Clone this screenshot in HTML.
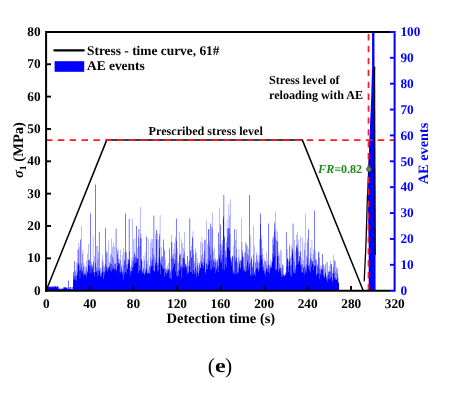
<!DOCTYPE html>
<html><head><meta charset="utf-8"><title>Stress - time curve and AE events (e)</title>
<style>html,body{margin:0;padding:0;background:#fff}svg{display:block}</style></head>
<body>
<svg width="451" height="396" viewBox="0 0 451 396" font-family="'Liberation Serif', 'Times New Roman', serif" font-weight="bold" text-rendering="geometricPrecision">
<rect width="451" height="396" fill="#fff"/>
<path d="M46.10 290.70v-4.40h0.272v4.40zM46.37 290.70v-4.40h0.272v4.40zM46.64 290.70v-4.40h0.272v4.40zM46.92 290.70v-4.40h0.272v4.40zM47.19 290.70v-3.36h0.272v3.36zM47.46 290.70v-4.40h0.272v4.40zM47.73 290.70v-4.14h0.272v4.14zM48.01 290.70v-4.40h0.272v4.40zM48.28 290.70v-3.36h0.272v3.36zM48.55 290.70v-3.88h0.272v3.88zM48.82 290.70v-3.36h0.272v3.36zM49.09 290.70v-3.88h0.272v3.88zM49.37 290.70v-4.40h0.272v4.40zM49.64 290.70v-3.88h0.272v3.88zM49.91 290.70v-3.36h0.272v3.36zM50.18 290.70v-4.14h0.272v4.14zM50.46 290.70v-4.66h0.272v4.66zM50.73 290.70v-3.36h0.272v3.36zM51.00 290.70v-3.36h0.272v3.36zM51.27 290.70v-3.36h0.272v3.36zM51.55 290.70v-4.66h0.272v4.66zM51.82 290.70v-3.88h0.272v3.88zM52.09 290.70v-4.66h0.272v4.66zM52.36 290.70v-3.36h0.272v3.36zM52.63 290.70v-4.14h0.272v4.14zM52.91 290.70v-4.66h0.272v4.66zM53.18 290.70v-3.36h0.272v3.36zM53.45 290.70v-3.36h0.272v3.36zM53.72 290.70v-3.88h0.272v3.88zM54.00 290.70v-4.66h0.272v4.66zM54.27 290.70v-4.40h0.272v4.40zM54.54 290.70v-3.88h0.272v3.88zM54.81 290.70v-4.14h0.272v4.14zM55.08 290.70v-4.14h0.272v4.14zM55.36 290.70v-4.14h0.272v4.14zM55.63 290.70v-4.66h0.272v4.66zM55.90 290.70v-4.14h0.272v4.14zM56.17 290.70v-4.40h0.272v4.40zM56.45 290.70v-3.36h0.272v3.36zM56.72 290.70v-3.36h0.272v3.36zM56.99 290.70v-4.40h0.272v4.40zM57.26 290.70v-4.40h0.272v4.40zM57.54 290.70v-4.40h0.272v4.40zM57.81 290.70v-4.40h0.272v4.40zM58.08 290.70v-4.14h0.272v4.14zM58.35 290.70v-3.36h0.272v3.36zM58.62 290.70v-1.81h0.272v1.81zM58.90 290.70v-1.29h0.272v1.29zM59.17 290.70v-2.33h0.272v2.33zM59.44 290.70v-2.33h0.272v2.33zM59.71 290.70v-1.55h0.272v1.55zM59.99 290.70v-1.81h0.272v1.81zM60.26 290.70v-1.29h0.272v1.29zM60.53 290.70v-1.81h0.272v1.81zM60.80 290.70v-2.33h0.272v2.33zM61.07 290.70v-1.81h0.272v1.81zM61.35 290.70v-1.29h0.272v1.29zM61.62 290.70v-2.33h0.272v2.33zM61.89 290.70v-1.29h0.272v1.29zM62.16 290.70v-2.33h0.272v2.33zM62.44 290.70v-2.33h0.272v2.33zM62.71 290.70v-1.81h0.272v1.81zM62.98 290.70v-2.33h0.272v2.33zM63.25 290.70v-1.81h0.272v1.81zM63.53 290.70v-3.62h0.272v3.62zM63.80 290.70v-3.36h0.272v3.36zM64.07 290.70v-3.36h0.272v3.36zM64.34 290.70v-3.36h0.272v3.36zM64.61 290.70v-3.11h0.272v3.11zM64.89 290.70v-3.36h0.272v3.36zM65.16 290.70v-3.36h0.272v3.36zM65.43 290.70v-3.11h0.272v3.11zM65.70 290.70v-3.62h0.272v3.62zM65.98 290.70v-2.59h0.272v2.59zM66.25 290.70v-2.59h0.272v2.59zM66.52 290.70v-3.62h0.272v3.62zM66.79 290.70v-3.11h0.272v3.11zM67.06 290.70v-3.62h0.272v3.62zM67.34 290.70v-2.07h0.272v2.07zM67.61 290.70v-2.07h0.272v2.07zM67.88 290.70v-2.07h0.272v2.07zM68.15 290.70v-2.07h0.272v2.07zM68.43 290.70v-10.09h0.272v10.09zM68.70 290.70v-10.09h0.272v10.09zM68.97 290.70v-1.55h0.272v1.55zM69.24 290.70v-3.62h0.272v3.62zM69.51 290.70v-1.81h0.272v1.81zM69.79 290.70v-3.62h0.272v3.62zM70.06 290.70v-3.62h0.272v3.62zM70.33 290.70v-3.88h0.272v3.88zM70.60 290.70v-1.55h0.272v1.55zM70.88 290.70v-3.88h0.272v3.88zM71.15 290.70v-1.55h0.272v1.55zM71.42 290.70v-1.81h0.272v1.81zM71.69 290.70v-1.55h0.272v1.55zM71.97 290.70v-3.62h0.272v3.62zM72.24 290.70v-1.55h0.272v1.55zM72.51 290.70v-1.81h0.272v1.81zM72.78 290.70v-3.88h0.272v3.88zM73.05 290.70v-10.50h0.272v10.50zM73.33 290.70v-19.04h0.272v19.04zM73.60 290.70v-18.67h0.272v18.67zM73.87 290.70v-15.21h0.272v15.21zM74.14 290.70v-11.85h0.272v11.85zM74.42 290.70v-29.70h0.272v29.70zM74.69 290.70v-29.70h0.272v29.70zM74.96 290.70v-10.80h0.272v10.80zM75.23 290.70v-14.68h0.272v14.68zM75.50 290.70v-19.33h0.272v19.33zM75.78 290.70v-20.81h0.272v20.81zM76.05 290.70v-14.36h0.272v14.36zM76.32 290.70v-28.32h0.272v28.32zM76.59 290.70v-10.05h0.272v10.05zM76.87 290.70v-15.64h0.272v15.64zM77.14 290.70v-27.43h0.272v27.43zM77.41 290.70v-41.15h0.272v41.15zM77.68 290.70v-18.25h0.272v18.25zM77.96 290.70v-25.02h0.272v25.02zM78.23 290.70v-27.81h0.272v27.81zM78.50 290.70v-40.89h0.272v40.89zM78.77 290.70v-47.86h0.272v47.86zM79.04 290.70v-26.23h0.272v26.23zM79.32 290.70v-20.23h0.272v20.23zM79.59 290.70v-43.99h0.272v43.99zM79.86 290.70v-12.47h0.272v12.47zM80.13 290.70v-51.20h0.272v51.20zM80.41 290.70v-51.20h0.272v51.20zM80.68 290.70v-20.84h0.272v20.84zM80.95 290.70v-23.53h0.272v23.53zM81.22 290.70v-65.14h0.272v65.14zM81.49 290.70v-27.34h0.272v27.34zM81.77 290.70v-19.28h0.272v19.28zM82.04 290.70v-17.76h0.272v17.76zM82.31 290.70v-37.31h0.272v37.31zM82.58 290.70v-20.82h0.272v20.82zM82.86 290.70v-40.92h0.272v40.92zM83.13 290.70v-15.18h0.272v15.18zM83.40 290.70v-23.57h0.272v23.57zM83.67 290.70v-28.01h0.272v28.01zM83.94 290.70v-19.16h0.272v19.16zM84.22 290.70v-25.47h0.272v25.47zM84.49 290.70v-15.86h0.272v15.86zM84.76 290.70v-16.69h0.272v16.69zM85.03 290.70v-16.22h0.272v16.22zM85.31 290.70v-19.98h0.272v19.98zM85.58 290.70v-24.32h0.272v24.32zM85.85 290.70v-16.45h0.272v16.45zM86.12 290.70v-14.04h0.272v14.04zM86.40 290.70v-23.17h0.272v23.17zM86.67 290.70v-30.08h0.272v30.08zM86.94 290.70v-18.81h0.272v18.81zM87.21 290.70v-37.11h0.272v37.11zM87.48 290.70v-20.84h0.272v20.84zM87.76 290.70v-17.96h0.272v17.96zM88.03 290.70v-25.71h0.272v25.71zM88.30 290.70v-46.99h0.272v46.99zM88.57 290.70v-31.05h0.272v31.05zM88.85 290.70v-29.90h0.272v29.90zM89.12 290.70v-30.39h0.272v30.39zM89.39 290.70v-31.62h0.272v31.62zM89.66 290.70v-23.23h0.272v23.23zM89.93 290.70v-16.89h0.272v16.89zM90.21 290.70v-77.30h0.272v77.30zM90.48 290.70v-77.30h0.272v77.30zM90.75 290.70v-25.08h0.272v25.08zM91.02 290.70v-18.16h0.272v18.16zM91.30 290.70v-26.43h0.272v26.43zM91.57 290.70v-29.08h0.272v29.08zM91.84 290.70v-23.44h0.272v23.44zM92.11 290.70v-21.60h0.272v21.60zM92.39 290.70v-25.14h0.272v25.14zM92.66 290.70v-25.08h0.272v25.08zM92.93 290.70v-54.87h0.272v54.87zM93.20 290.70v-18.12h0.272v18.12zM93.47 290.70v-27.46h0.272v27.46zM93.75 290.70v-29.79h0.272v29.79zM94.02 290.70v-14.52h0.272v14.52zM94.29 290.70v-18.17h0.272v18.17zM94.56 290.70v-34.54h0.272v34.54zM94.84 290.70v-18.72h0.272v18.72zM95.11 290.70v-27.90h0.272v27.90zM95.38 290.70v-106.30h0.272v106.30zM95.65 290.70v-106.30h0.272v106.30zM95.92 290.70v-18.34h0.272v18.34zM96.20 290.70v-23.46h0.272v23.46zM96.47 290.70v-44.82h0.272v44.82zM96.74 290.70v-19.43h0.272v19.43zM97.01 290.70v-44.66h0.272v44.66zM97.29 290.70v-13.98h0.272v13.98zM97.56 290.70v-20.14h0.272v20.14zM97.83 290.70v-32.02h0.272v32.02zM98.10 290.70v-39.10h0.272v39.10zM98.38 290.70v-16.38h0.272v16.38zM98.65 290.70v-21.85h0.272v21.85zM98.92 290.70v-59.00h0.272v59.00zM99.19 290.70v-59.00h0.272v59.00zM99.46 290.70v-20.57h0.272v20.57zM99.74 290.70v-19.86h0.272v19.86zM100.01 290.70v-22.33h0.272v22.33zM100.28 290.70v-15.76h0.272v15.76zM100.55 290.70v-13.75h0.272v13.75zM100.83 290.70v-22.77h0.272v22.77zM101.10 290.70v-17.75h0.272v17.75zM101.37 290.70v-17.92h0.272v17.92zM101.64 290.70v-13.92h0.272v13.92zM101.91 290.70v-31.06h0.272v31.06zM102.19 290.70v-36.06h0.272v36.06zM102.46 290.70v-25.11h0.272v25.11zM102.73 290.70v-19.32h0.272v19.32zM103.00 290.70v-28.86h0.272v28.86zM103.28 290.70v-19.00h0.272v19.00zM103.55 290.70v-11.60h0.272v11.60zM103.82 290.70v-23.31h0.272v23.31zM104.09 290.70v-24.09h0.272v24.09zM104.36 290.70v-18.74h0.272v18.74zM104.64 290.70v-16.17h0.272v16.17zM104.91 290.70v-26.61h0.272v26.61zM105.18 290.70v-19.85h0.272v19.85zM105.45 290.70v-62.70h0.272v62.70zM105.73 290.70v-62.70h0.272v62.70zM106.00 290.70v-40.51h0.272v40.51zM106.27 290.70v-37.52h0.272v37.52zM106.54 290.70v-24.22h0.272v24.22zM106.82 290.70v-21.75h0.272v21.75zM107.09 290.70v-23.88h0.272v23.88zM107.36 290.70v-18.80h0.272v18.80zM107.63 290.70v-38.63h0.272v38.63zM107.90 290.70v-20.91h0.272v20.91zM108.18 290.70v-23.44h0.272v23.44zM108.45 290.70v-50.06h0.272v50.06zM108.72 290.70v-22.54h0.272v22.54zM108.99 290.70v-28.80h0.272v28.80zM109.27 290.70v-23.75h0.272v23.75zM109.54 290.70v-24.61h0.272v24.61zM109.81 290.70v-28.20h0.272v28.20zM110.08 290.70v-27.19h0.272v27.19zM110.35 290.70v-19.94h0.272v19.94zM110.63 290.70v-35.70h0.272v35.70zM110.90 290.70v-36.86h0.272v36.86zM111.17 290.70v-52.08h0.272v52.08zM111.44 290.70v-19.30h0.272v19.30zM111.72 290.70v-26.72h0.272v26.72zM111.99 290.70v-33.99h0.272v33.99zM112.26 290.70v-43.60h0.272v43.60zM112.53 290.70v-21.16h0.272v21.16zM112.81 290.70v-25.02h0.272v25.02zM113.08 290.70v-22.44h0.272v22.44zM113.35 290.70v-48.03h0.272v48.03zM113.62 290.70v-31.80h0.272v31.80zM113.89 290.70v-22.43h0.272v22.43zM114.17 290.70v-27.02h0.272v27.02zM114.44 290.70v-44.00h0.272v44.00zM114.71 290.70v-20.79h0.272v20.79zM114.98 290.70v-26.44h0.272v26.44zM115.26 290.70v-21.91h0.272v21.91zM115.53 290.70v-27.84h0.272v27.84zM115.80 290.70v-61.90h0.272v61.90zM116.07 290.70v-61.90h0.272v61.90zM116.34 290.70v-19.68h0.272v19.68zM116.62 290.70v-20.94h0.272v20.94zM116.89 290.70v-43.04h0.272v43.04zM117.16 290.70v-36.82h0.272v36.82zM117.43 290.70v-24.10h0.272v24.10zM117.71 290.70v-39.76h0.272v39.76zM117.98 290.70v-40.68h0.272v40.68zM118.25 290.70v-27.63h0.272v27.63zM118.52 290.70v-32.34h0.272v32.34zM118.79 290.70v-27.43h0.272v27.43zM119.07 290.70v-27.50h0.272v27.50zM119.34 290.70v-26.19h0.272v26.19zM119.61 290.70v-31.75h0.272v31.75zM119.88 290.70v-17.87h0.272v17.87zM120.16 290.70v-40.95h0.272v40.95zM120.43 290.70v-18.18h0.272v18.18zM120.70 290.70v-30.66h0.272v30.66zM120.97 290.70v-21.93h0.272v21.93zM121.25 290.70v-25.45h0.272v25.45zM121.52 290.70v-24.34h0.272v24.34zM121.79 290.70v-18.65h0.272v18.65zM122.06 290.70v-35.80h0.272v35.80zM122.33 290.70v-19.93h0.272v19.93zM122.61 290.70v-15.88h0.272v15.88zM122.88 290.70v-18.87h0.272v18.87zM123.15 290.70v-11.24h0.272v11.24zM123.42 290.70v-25.37h0.272v25.37zM123.70 290.70v-42.87h0.272v42.87zM123.97 290.70v-38.34h0.272v38.34zM124.24 290.70v-16.70h0.272v16.70zM124.51 290.70v-29.87h0.272v29.87zM124.78 290.70v-30.65h0.272v30.65zM125.06 290.70v-18.68h0.272v18.68zM125.33 290.70v-77.30h0.272v77.30zM125.60 290.70v-77.30h0.272v77.30zM125.87 290.70v-39.18h0.272v39.18zM126.15 290.70v-26.00h0.272v26.00zM126.42 290.70v-38.07h0.272v38.07zM126.69 290.70v-17.74h0.272v17.74zM126.96 290.70v-22.22h0.272v22.22zM127.24 290.70v-21.58h0.272v21.58zM127.51 290.70v-26.46h0.272v26.46zM127.78 290.70v-31.84h0.272v31.84zM128.05 290.70v-31.57h0.272v31.57zM128.32 290.70v-31.42h0.272v31.42zM128.60 290.70v-27.18h0.272v27.18zM128.87 290.70v-71.70h0.272v71.70zM129.14 290.70v-71.70h0.272v71.70zM129.41 290.70v-29.68h0.272v29.68zM129.69 290.70v-39.55h0.272v39.55zM129.96 290.70v-15.22h0.272v15.22zM130.23 290.70v-21.23h0.272v21.23zM130.50 290.70v-18.99h0.272v18.99zM130.77 290.70v-23.98h0.272v23.98zM131.05 290.70v-32.41h0.272v32.41zM131.32 290.70v-19.77h0.272v19.77zM131.59 290.70v-25.66h0.272v25.66zM131.86 290.70v-19.74h0.272v19.74zM132.14 290.70v-29.17h0.272v29.17zM132.41 290.70v-71.65h0.272v71.65zM132.68 290.70v-23.27h0.272v23.27zM132.95 290.70v-23.84h0.272v23.84zM133.22 290.70v-30.33h0.272v30.33zM133.50 290.70v-51.41h0.272v51.41zM133.77 290.70v-33.72h0.272v33.72zM134.04 290.70v-37.10h0.272v37.10zM134.31 290.70v-38.60h0.272v38.60zM134.59 290.70v-26.83h0.272v26.83zM134.86 290.70v-52.79h0.272v52.79zM135.13 290.70v-27.74h0.272v27.74zM135.40 290.70v-35.44h0.272v35.44zM135.68 290.70v-33.18h0.272v33.18zM135.95 290.70v-33.54h0.272v33.54zM136.22 290.70v-64.80h0.272v64.80zM136.49 290.70v-64.80h0.272v64.80zM136.76 290.70v-28.19h0.272v28.19zM137.04 290.70v-32.59h0.272v32.59zM137.31 290.70v-43.19h0.272v43.19zM137.58 290.70v-31.36h0.272v31.36zM137.85 290.70v-31.76h0.272v31.76zM138.13 290.70v-53.50h0.272v53.50zM138.40 290.70v-17.68h0.272v17.68zM138.67 290.70v-61.70h0.272v61.70zM138.94 290.70v-61.70h0.272v61.70zM139.21 290.70v-19.92h0.272v19.92zM139.49 290.70v-44.66h0.272v44.66zM139.76 290.70v-25.28h0.272v25.28zM140.03 290.70v-20.59h0.272v20.59zM140.30 290.70v-83.65h0.272v83.65zM140.58 290.70v-52.62h0.272v52.62zM140.85 290.70v-57.29h0.272v57.29zM141.12 290.70v-31.48h0.272v31.48zM141.39 290.70v-30.27h0.272v30.27zM141.67 290.70v-52.55h0.272v52.55zM141.94 290.70v-17.15h0.272v17.15zM142.21 290.70v-20.07h0.272v20.07zM142.48 290.70v-19.24h0.272v19.24zM142.75 290.70v-29.66h0.272v29.66zM143.03 290.70v-22.05h0.272v22.05zM143.30 290.70v-17.67h0.272v17.67zM143.57 290.70v-23.29h0.272v23.29zM143.84 290.70v-34.83h0.272v34.83zM144.12 290.70v-15.64h0.272v15.64zM144.39 290.70v-30.45h0.272v30.45zM144.66 290.70v-17.06h0.272v17.06zM144.93 290.70v-38.69h0.272v38.69zM145.20 290.70v-18.05h0.272v18.05zM145.48 290.70v-22.10h0.272v22.10zM145.75 290.70v-19.36h0.272v19.36zM146.02 290.70v-54.10h0.272v54.10zM146.29 290.70v-54.10h0.272v54.10zM146.57 290.70v-21.59h0.272v21.59zM146.84 290.70v-27.15h0.272v27.15zM147.11 290.70v-30.42h0.272v30.42zM147.38 290.70v-17.22h0.272v17.22zM147.66 290.70v-17.78h0.272v17.78zM147.93 290.70v-17.68h0.272v17.68zM148.20 290.70v-20.55h0.272v20.55zM148.47 290.70v-17.67h0.272v17.67zM148.74 290.70v-52.04h0.272v52.04zM149.02 290.70v-25.04h0.272v25.04zM149.29 290.70v-24.82h0.272v24.82zM149.56 290.70v-17.54h0.272v17.54zM149.83 290.70v-16.60h0.272v16.60zM150.11 290.70v-22.81h0.272v22.81zM150.38 290.70v-48.03h0.272v48.03zM150.65 290.70v-33.16h0.272v33.16zM150.92 290.70v-25.64h0.272v25.64zM151.19 290.70v-29.91h0.272v29.91zM151.47 290.70v-24.45h0.272v24.45zM151.74 290.70v-51.66h0.272v51.66zM152.01 290.70v-31.14h0.272v31.14zM152.28 290.70v-51.60h0.272v51.60zM152.56 290.70v-42.63h0.272v42.63zM152.83 290.70v-24.93h0.272v24.93zM153.10 290.70v-20.16h0.272v20.16zM153.37 290.70v-36.54h0.272v36.54zM153.64 290.70v-75.30h0.272v75.30zM153.92 290.70v-75.30h0.272v75.30zM154.19 290.70v-19.10h0.272v19.10zM154.46 290.70v-19.78h0.272v19.78zM154.73 290.70v-33.60h0.272v33.60zM155.01 290.70v-31.01h0.272v31.01zM155.28 290.70v-28.00h0.272v28.00zM155.55 290.70v-56.94h0.272v56.94zM155.82 290.70v-25.08h0.272v25.08zM156.10 290.70v-51.31h0.272v51.31zM156.37 290.70v-60.70h0.272v60.70zM156.64 290.70v-60.70h0.272v60.70zM156.91 290.70v-29.03h0.272v29.03zM157.18 290.70v-57.33h0.272v57.33zM157.46 290.70v-25.46h0.272v25.46zM157.73 290.70v-19.25h0.272v19.25zM158.00 290.70v-27.43h0.272v27.43zM158.27 290.70v-51.27h0.272v51.27zM158.55 290.70v-20.73h0.272v20.73zM158.82 290.70v-33.28h0.272v33.28zM159.09 290.70v-56.87h0.272v56.87zM159.36 290.70v-55.03h0.272v55.03zM159.63 290.70v-42.39h0.272v42.39zM159.91 290.70v-75.62h0.272v75.62zM160.18 290.70v-31.08h0.272v31.08zM160.45 290.70v-28.07h0.272v28.07zM160.72 290.70v-16.53h0.272v16.53zM161.00 290.70v-34.32h0.272v34.32zM161.27 290.70v-43.99h0.272v43.99zM161.54 290.70v-25.33h0.272v25.33zM161.81 290.70v-26.14h0.272v26.14zM162.09 290.70v-34.67h0.272v34.67zM162.36 290.70v-33.43h0.272v33.43zM162.63 290.70v-23.39h0.272v23.39zM162.90 290.70v-21.18h0.272v21.18zM163.17 290.70v-22.39h0.272v22.39zM163.45 290.70v-51.20h0.272v51.20zM163.72 290.70v-51.20h0.272v51.20zM163.99 290.70v-39.93h0.272v39.93zM164.26 290.70v-41.84h0.272v41.84zM164.54 290.70v-13.63h0.272v13.63zM164.81 290.70v-22.32h0.272v22.32zM165.08 290.70v-21.32h0.272v21.32zM165.35 290.70v-18.11h0.272v18.11zM165.62 290.70v-31.62h0.272v31.62zM165.90 290.70v-17.67h0.272v17.67zM166.17 290.70v-22.23h0.272v22.23zM166.44 290.70v-21.46h0.272v21.46zM166.71 290.70v-15.48h0.272v15.48zM166.99 290.70v-21.45h0.272v21.45zM167.26 290.70v-19.80h0.272v19.80zM167.53 290.70v-25.30h0.272v25.30zM167.80 290.70v-18.02h0.272v18.02zM168.08 290.70v-27.58h0.272v27.58zM168.35 290.70v-21.40h0.272v21.40zM168.62 290.70v-20.91h0.272v20.91zM168.89 290.70v-21.44h0.272v21.44zM169.16 290.70v-12.94h0.272v12.94zM169.44 290.70v-43.18h0.272v43.18zM169.71 290.70v-41.33h0.272v41.33zM169.98 290.70v-18.30h0.272v18.30zM170.25 290.70v-12.50h0.272v12.50zM170.53 290.70v-20.09h0.272v20.09zM170.80 290.70v-32.27h0.272v32.27zM171.07 290.70v-11.42h0.272v11.42zM171.34 290.70v-56.04h0.272v56.04zM171.61 290.70v-48.70h0.272v48.70zM171.89 290.70v-48.70h0.272v48.70zM172.16 290.70v-20.63h0.272v20.63zM172.43 290.70v-32.60h0.272v32.60zM172.70 290.70v-35.38h0.272v35.38zM172.98 290.70v-32.02h0.272v32.02zM173.25 290.70v-37.04h0.272v37.04zM173.52 290.70v-23.52h0.272v23.52zM173.79 290.70v-42.27h0.272v42.27zM174.06 290.70v-26.82h0.272v26.82zM174.34 290.70v-27.93h0.272v27.93zM174.61 290.70v-47.94h0.272v47.94zM174.88 290.70v-31.12h0.272v31.12zM175.15 290.70v-37.42h0.272v37.42zM175.43 290.70v-53.63h0.272v53.63zM175.70 290.70v-19.40h0.272v19.40zM175.97 290.70v-72.20h0.272v72.20zM176.24 290.70v-72.20h0.272v72.20zM176.52 290.70v-49.96h0.272v49.96zM176.79 290.70v-15.17h0.272v15.17zM177.06 290.70v-14.29h0.272v14.29zM177.33 290.70v-18.77h0.272v18.77zM177.60 290.70v-42.17h0.272v42.17zM177.88 290.70v-27.47h0.272v27.47zM178.15 290.70v-14.76h0.272v14.76zM178.42 290.70v-29.14h0.272v29.14zM178.69 290.70v-20.62h0.272v20.62zM178.97 290.70v-20.13h0.272v20.13zM179.24 290.70v-58.77h0.272v58.77zM179.51 290.70v-34.89h0.272v34.89zM179.78 290.70v-36.92h0.272v36.92zM180.05 290.70v-37.55h0.272v37.55zM180.33 290.70v-22.59h0.272v22.59zM180.60 290.70v-35.98h0.272v35.98zM180.87 290.70v-25.18h0.272v25.18zM181.14 290.70v-13.01h0.272v13.01zM181.42 290.70v-26.39h0.272v26.39zM181.69 290.70v-51.50h0.272v51.50zM181.96 290.70v-23.84h0.272v23.84zM182.23 290.70v-47.35h0.272v47.35zM182.51 290.70v-23.46h0.272v23.46zM182.78 290.70v-32.79h0.272v32.79zM183.05 290.70v-32.74h0.272v32.74zM183.32 290.70v-36.09h0.272v36.09zM183.59 290.70v-42.81h0.272v42.81zM183.87 290.70v-21.86h0.272v21.86zM184.14 290.70v-31.62h0.272v31.62zM184.41 290.70v-58.97h0.272v58.97zM184.68 290.70v-38.97h0.272v38.97zM184.96 290.70v-23.75h0.272v23.75zM185.23 290.70v-26.80h0.272v26.80zM185.50 290.70v-26.59h0.272v26.59zM185.77 290.70v-28.45h0.272v28.45zM186.04 290.70v-24.96h0.272v24.96zM186.32 290.70v-25.72h0.272v25.72zM186.59 290.70v-23.68h0.272v23.68zM186.86 290.70v-20.47h0.272v20.47zM187.13 290.70v-34.42h0.272v34.42zM187.41 290.70v-34.96h0.272v34.96zM187.68 290.70v-16.50h0.272v16.50zM187.95 290.70v-17.77h0.272v17.77zM188.22 290.70v-29.18h0.272v29.18zM188.49 290.70v-18.39h0.272v18.39zM188.77 290.70v-24.37h0.272v24.37zM189.04 290.70v-24.76h0.272v24.76zM189.31 290.70v-30.59h0.272v30.59zM189.58 290.70v-72.40h0.272v72.40zM189.86 290.70v-72.40h0.272v72.40zM190.13 290.70v-39.66h0.272v39.66zM190.40 290.70v-40.54h0.272v40.54zM190.67 290.70v-18.68h0.272v18.68zM190.95 290.70v-18.65h0.272v18.65zM191.22 290.70v-33.21h0.272v33.21zM191.49 290.70v-44.92h0.272v44.92zM191.76 290.70v-33.34h0.272v33.34zM192.03 290.70v-54.14h0.272v54.14zM192.31 290.70v-16.65h0.272v16.65zM192.58 290.70v-52.71h0.272v52.71zM192.85 290.70v-59.45h0.272v59.45zM193.12 290.70v-20.46h0.272v20.46zM193.40 290.70v-40.99h0.272v40.99zM193.67 290.70v-35.95h0.272v35.95zM193.94 290.70v-27.29h0.272v27.29zM194.21 290.70v-16.76h0.272v16.76zM194.48 290.70v-19.17h0.272v19.17zM194.76 290.70v-29.47h0.272v29.47zM195.03 290.70v-37.16h0.272v37.16zM195.30 290.70v-23.78h0.272v23.78zM195.57 290.70v-42.82h0.272v42.82zM195.85 290.70v-17.47h0.272v17.47zM196.12 290.70v-38.48h0.272v38.48zM196.39 290.70v-13.80h0.272v13.80zM196.66 290.70v-21.22h0.272v21.22zM196.94 290.70v-25.04h0.272v25.04zM197.21 290.70v-27.64h0.272v27.64zM197.48 290.70v-32.26h0.272v32.26zM197.75 290.70v-17.92h0.272v17.92zM198.02 290.70v-14.70h0.272v14.70zM198.30 290.70v-23.22h0.272v23.22zM198.57 290.70v-17.55h0.272v17.55zM198.84 290.70v-28.02h0.272v28.02zM199.11 290.70v-19.76h0.272v19.76zM199.39 290.70v-25.74h0.272v25.74zM199.66 290.70v-27.61h0.272v27.61zM199.93 290.70v-30.20h0.272v30.20zM200.20 290.70v-22.65h0.272v22.65zM200.47 290.70v-48.59h0.272v48.59zM200.75 290.70v-22.93h0.272v22.93zM201.02 290.70v-27.31h0.272v27.31zM201.29 290.70v-35.39h0.272v35.39zM201.56 290.70v-29.20h0.272v29.20zM201.84 290.70v-54.02h0.272v54.02zM202.11 290.70v-28.03h0.272v28.03zM202.38 290.70v-25.30h0.272v25.30zM202.65 290.70v-47.16h0.272v47.16zM202.93 290.70v-36.67h0.272v36.67zM203.20 290.70v-22.37h0.272v22.37zM203.47 290.70v-24.93h0.272v24.93zM203.74 290.70v-31.87h0.272v31.87zM204.01 290.70v-50.50h0.272v50.50zM204.29 290.70v-39.80h0.272v39.80zM204.56 290.70v-28.62h0.272v28.62zM204.83 290.70v-51.20h0.272v51.20zM205.10 290.70v-51.20h0.272v51.20zM205.38 290.70v-18.60h0.272v18.60zM205.65 290.70v-17.10h0.272v17.10zM205.92 290.70v-21.17h0.272v21.17zM206.19 290.70v-27.47h0.272v27.47zM206.46 290.70v-26.98h0.272v26.98zM206.74 290.70v-70.17h0.272v70.17zM207.01 290.70v-25.25h0.272v25.25zM207.28 290.70v-21.58h0.272v21.58zM207.55 290.70v-46.49h0.272v46.49zM207.83 290.70v-31.60h0.272v31.60zM208.10 290.70v-25.89h0.272v25.89zM208.37 290.70v-61.40h0.272v61.40zM208.64 290.70v-61.40h0.272v61.40zM208.91 290.70v-62.02h0.272v62.02zM209.19 290.70v-44.01h0.272v44.01zM209.46 290.70v-29.85h0.272v29.85zM209.73 290.70v-49.44h0.272v49.44zM210.00 290.70v-36.28h0.272v36.28zM210.28 290.70v-21.28h0.272v21.28zM210.55 290.70v-67.20h0.272v67.20zM210.82 290.70v-67.20h0.272v67.20zM211.09 290.70v-63.95h0.272v63.95zM211.37 290.70v-30.71h0.272v30.71zM211.64 290.70v-21.21h0.272v21.21zM211.91 290.70v-41.74h0.272v41.74zM212.18 290.70v-78.15h0.272v78.15zM212.45 290.70v-24.00h0.272v24.00zM212.73 290.70v-62.33h0.272v62.33zM213.00 290.70v-31.32h0.272v31.32zM213.27 290.70v-39.57h0.272v39.57zM213.54 290.70v-29.90h0.272v29.90zM213.82 290.70v-21.84h0.272v21.84zM214.09 290.70v-43.25h0.272v43.25zM214.36 290.70v-24.02h0.272v24.02zM214.63 290.70v-28.76h0.272v28.76zM214.90 290.70v-32.19h0.272v32.19zM215.18 290.70v-17.71h0.272v17.71zM215.45 290.70v-31.61h0.272v31.61zM215.72 290.70v-28.91h0.272v28.91zM215.99 290.70v-22.78h0.272v22.78zM216.27 290.70v-20.70h0.272v20.70zM216.54 290.70v-28.60h0.272v28.60zM216.81 290.70v-30.91h0.272v30.91zM217.08 290.70v-25.75h0.272v25.75zM217.36 290.70v-31.40h0.272v31.40zM217.63 290.70v-30.49h0.272v30.49zM217.90 290.70v-18.61h0.272v18.61zM218.17 290.70v-57.90h0.272v57.90zM218.44 290.70v-57.90h0.272v57.90zM218.72 290.70v-23.96h0.272v23.96zM218.99 290.70v-83.25h0.272v83.25zM219.26 290.70v-36.05h0.272v36.05zM219.53 290.70v-32.38h0.272v32.38zM219.81 290.70v-46.53h0.272v46.53zM220.08 290.70v-66.66h0.272v66.66zM220.35 290.70v-28.34h0.272v28.34zM220.62 290.70v-65.19h0.272v65.19zM220.89 290.70v-40.79h0.272v40.79zM221.17 290.70v-27.59h0.272v27.59zM221.44 290.70v-47.75h0.272v47.75zM221.71 290.70v-31.75h0.272v31.75zM221.98 290.70v-44.62h0.272v44.62zM222.26 290.70v-50.56h0.272v50.56zM222.53 290.70v-35.77h0.272v35.77zM222.80 290.70v-21.47h0.272v21.47zM223.07 290.70v-75.02h0.272v75.02zM223.34 290.70v-71.87h0.272v71.87zM223.62 290.70v-95.70h0.272v95.70zM223.89 290.70v-95.70h0.272v95.70zM224.16 290.70v-54.69h0.272v54.69zM224.43 290.70v-52.67h0.272v52.67zM224.71 290.70v-21.01h0.272v21.01zM224.98 290.70v-33.30h0.272v33.30zM225.25 290.70v-39.71h0.272v39.71zM225.52 290.70v-26.38h0.272v26.38zM225.80 290.70v-40.42h0.272v40.42zM226.07 290.70v-48.61h0.272v48.61zM226.34 290.70v-33.51h0.272v33.51zM226.61 290.70v-23.21h0.272v23.21zM226.88 290.70v-71.13h0.272v71.13zM227.16 290.70v-61.91h0.272v61.91zM227.43 290.70v-43.36h0.272v43.36zM227.70 290.70v-54.00h0.272v54.00zM227.97 290.70v-62.70h0.272v62.70zM228.25 290.70v-62.70h0.272v62.70zM228.52 290.70v-43.00h0.272v43.00zM228.79 290.70v-86.58h0.272v86.58zM229.06 290.70v-62.13h0.272v62.13zM229.33 290.70v-40.65h0.272v40.65zM229.61 290.70v-75.34h0.272v75.34zM229.88 290.70v-56.60h0.272v56.60zM230.15 290.70v-31.96h0.272v31.96zM230.42 290.70v-33.57h0.272v33.57zM230.70 290.70v-91.23h0.272v91.23zM230.97 290.70v-29.35h0.272v29.35zM231.24 290.70v-29.28h0.272v29.28zM231.51 290.70v-32.57h0.272v32.57zM231.79 290.70v-25.31h0.272v25.31zM232.06 290.70v-33.80h0.272v33.80zM232.33 290.70v-35.02h0.272v35.02zM232.60 290.70v-34.90h0.272v34.90zM232.87 290.70v-17.55h0.272v17.55zM233.15 290.70v-20.17h0.272v20.17zM233.42 290.70v-19.21h0.272v19.21zM233.69 290.70v-44.97h0.272v44.97zM233.96 290.70v-34.59h0.272v34.59zM234.24 290.70v-16.58h0.272v16.58zM234.51 290.70v-61.70h0.272v61.70zM234.78 290.70v-61.70h0.272v61.70zM235.05 290.70v-29.28h0.272v29.28zM235.32 290.70v-32.32h0.272v32.32zM235.60 290.70v-50.64h0.272v50.64zM235.87 290.70v-16.93h0.272v16.93zM236.14 290.70v-32.83h0.272v32.83zM236.41 290.70v-41.65h0.272v41.65zM236.69 290.70v-61.02h0.272v61.02zM236.96 290.70v-27.86h0.272v27.86zM237.23 290.70v-17.18h0.272v17.18zM237.50 290.70v-29.39h0.272v29.39zM237.78 290.70v-18.35h0.272v18.35zM238.05 290.70v-22.87h0.272v22.87zM238.32 290.70v-33.65h0.272v33.65zM238.59 290.70v-18.54h0.272v18.54zM238.86 290.70v-41.36h0.272v41.36zM239.14 290.70v-30.81h0.272v30.81zM239.41 290.70v-28.47h0.272v28.47zM239.68 290.70v-26.35h0.272v26.35zM239.95 290.70v-21.48h0.272v21.48zM240.23 290.70v-30.72h0.272v30.72zM240.50 290.70v-30.49h0.272v30.49zM240.77 290.70v-23.12h0.272v23.12zM241.04 290.70v-28.71h0.272v28.71zM241.31 290.70v-72.17h0.272v72.17zM241.59 290.70v-30.95h0.272v30.95zM241.86 290.70v-48.79h0.272v48.79zM242.13 290.70v-34.27h0.272v34.27zM242.40 290.70v-41.04h0.272v41.04zM242.68 290.70v-37.76h0.272v37.76zM242.95 290.70v-20.20h0.272v20.20zM243.22 290.70v-33.07h0.272v33.07zM243.49 290.70v-25.04h0.272v25.04zM243.76 290.70v-34.03h0.272v34.03zM244.04 290.70v-20.56h0.272v20.56zM244.31 290.70v-38.54h0.272v38.54zM244.58 290.70v-22.37h0.272v22.37zM244.85 290.70v-18.38h0.272v18.38zM245.13 290.70v-38.53h0.272v38.53zM245.40 290.70v-19.31h0.272v19.31zM245.67 290.70v-48.62h0.272v48.62zM245.94 290.70v-47.25h0.272v47.25zM246.22 290.70v-24.62h0.272v24.62zM246.49 290.70v-45.86h0.272v45.86zM246.76 290.70v-19.72h0.272v19.72zM247.03 290.70v-44.71h0.272v44.71zM247.30 290.70v-30.52h0.272v30.52zM247.58 290.70v-36.99h0.272v36.99zM247.85 290.70v-28.31h0.272v28.31zM248.12 290.70v-35.11h0.272v35.11zM248.39 290.70v-41.66h0.272v41.66zM248.67 290.70v-21.35h0.272v21.35zM248.94 290.70v-24.05h0.272v24.05zM249.21 290.70v-95.70h0.272v95.70zM249.48 290.70v-95.70h0.272v95.70zM249.75 290.70v-26.58h0.272v26.58zM250.03 290.70v-28.72h0.272v28.72zM250.30 290.70v-55.11h0.272v55.11zM250.57 290.70v-16.38h0.272v16.38zM250.84 290.70v-14.43h0.272v14.43zM251.12 290.70v-34.78h0.272v34.78zM251.39 290.70v-31.36h0.272v31.36zM251.66 290.70v-32.62h0.272v32.62zM251.93 290.70v-15.92h0.272v15.92zM252.21 290.70v-26.47h0.272v26.47zM252.48 290.70v-23.32h0.272v23.32zM252.75 290.70v-23.47h0.272v23.47zM253.02 290.70v-29.12h0.272v29.12zM253.29 290.70v-35.74h0.272v35.74zM253.57 290.70v-65.07h0.272v65.07zM253.84 290.70v-15.41h0.272v15.41zM254.11 290.70v-18.21h0.272v18.21zM254.38 290.70v-17.32h0.272v17.32zM254.66 290.70v-44.70h0.272v44.70zM254.93 290.70v-20.33h0.272v20.33zM255.20 290.70v-27.62h0.272v27.62zM255.47 290.70v-29.46h0.272v29.46zM255.74 290.70v-14.65h0.272v14.65zM256.02 290.70v-38.44h0.272v38.44zM256.29 290.70v-35.24h0.272v35.24zM256.56 290.70v-22.10h0.272v22.10zM256.83 290.70v-22.47h0.272v22.47zM257.11 290.70v-23.39h0.272v23.39zM257.38 290.70v-30.95h0.272v30.95zM257.65 290.70v-29.08h0.272v29.08zM257.92 290.70v-35.83h0.272v35.83zM258.19 290.70v-19.03h0.272v19.03zM258.47 290.70v-20.75h0.272v20.75zM258.74 290.70v-27.73h0.272v27.73zM259.01 290.70v-29.28h0.272v29.28zM259.28 290.70v-22.53h0.272v22.53zM259.56 290.70v-52.00h0.272v52.00zM259.83 290.70v-35.16h0.272v35.16zM260.10 290.70v-77.30h0.272v77.30zM260.37 290.70v-77.30h0.272v77.30zM260.65 290.70v-66.91h0.272v66.91zM260.92 290.70v-31.56h0.272v31.56zM261.19 290.70v-35.77h0.272v35.77zM261.46 290.70v-55.05h0.272v55.05zM261.73 290.70v-50.24h0.272v50.24zM262.01 290.70v-22.93h0.272v22.93zM262.28 290.70v-30.52h0.272v30.52zM262.55 290.70v-42.66h0.272v42.66zM262.82 290.70v-36.65h0.272v36.65zM263.10 290.70v-26.27h0.272v26.27zM263.37 290.70v-20.28h0.272v20.28zM263.64 290.70v-24.16h0.272v24.16zM263.91 290.70v-32.53h0.272v32.53zM264.18 290.70v-30.29h0.272v30.29zM264.46 290.70v-20.28h0.272v20.28zM264.73 290.70v-17.08h0.272v17.08zM265.00 290.70v-18.94h0.272v18.94zM265.27 290.70v-14.51h0.272v14.51zM265.55 290.70v-29.45h0.272v29.45zM265.82 290.70v-29.13h0.272v29.13zM266.09 290.70v-21.26h0.272v21.26zM266.36 290.70v-25.54h0.272v25.54zM266.64 290.70v-38.11h0.272v38.11zM266.91 290.70v-22.23h0.272v22.23zM267.18 290.70v-22.96h0.272v22.96zM267.45 290.70v-30.15h0.272v30.15zM267.72 290.70v-18.99h0.272v18.99zM268.00 290.70v-26.19h0.272v26.19zM268.27 290.70v-67.20h0.272v67.20zM268.54 290.70v-67.20h0.272v67.20zM268.81 290.70v-18.68h0.272v18.68zM269.09 290.70v-24.32h0.272v24.32zM269.36 290.70v-25.53h0.272v25.53zM269.63 290.70v-17.15h0.272v17.15zM269.90 290.70v-22.37h0.272v22.37zM270.17 290.70v-30.90h0.272v30.90zM270.45 290.70v-25.68h0.272v25.68zM270.72 290.70v-22.65h0.272v22.65zM270.99 290.70v-23.30h0.272v23.30zM271.26 290.70v-24.47h0.272v24.47zM271.54 290.70v-29.93h0.272v29.93zM271.81 290.70v-27.46h0.272v27.46zM272.08 290.70v-51.15h0.272v51.15zM272.35 290.70v-37.06h0.272v37.06zM272.62 290.70v-29.22h0.272v29.22zM272.90 290.70v-54.10h0.272v54.10zM273.17 290.70v-54.10h0.272v54.10zM273.44 290.70v-46.03h0.272v46.03zM273.71 290.70v-33.61h0.272v33.61zM273.99 290.70v-67.17h0.272v67.17zM274.26 290.70v-68.71h0.272v68.71zM274.53 290.70v-59.30h0.272v59.30zM274.80 290.70v-35.05h0.272v35.05zM275.08 290.70v-79.51h0.272v79.51zM275.35 290.70v-52.32h0.272v52.32zM275.62 290.70v-20.13h0.272v20.13zM275.89 290.70v-61.33h0.272v61.33zM276.16 290.70v-21.28h0.272v21.28zM276.44 290.70v-21.40h0.272v21.40zM276.71 290.70v-50.62h0.272v50.62zM276.98 290.70v-58.99h0.272v58.99zM277.25 290.70v-34.35h0.272v34.35zM277.53 290.70v-48.80h0.272v48.80zM277.80 290.70v-49.74h0.272v49.74zM278.07 290.70v-18.44h0.272v18.44zM278.34 290.70v-34.36h0.272v34.36zM278.61 290.70v-38.80h0.272v38.80zM278.89 290.70v-20.40h0.272v20.40zM279.16 290.70v-36.09h0.272v36.09zM279.43 290.70v-22.49h0.272v22.49zM279.70 290.70v-27.45h0.272v27.45zM279.98 290.70v-23.20h0.272v23.20zM280.25 290.70v-40.87h0.272v40.87zM280.52 290.70v-22.58h0.272v22.58zM280.79 290.70v-19.28h0.272v19.28zM281.07 290.70v-13.93h0.272v13.93zM281.34 290.70v-16.60h0.272v16.60zM281.61 290.70v-39.09h0.272v39.09zM281.88 290.70v-22.41h0.272v22.41zM282.15 290.70v-26.91h0.272v26.91zM282.43 290.70v-25.70h0.272v25.70zM282.70 290.70v-13.97h0.272v13.97zM282.97 290.70v-16.63h0.272v16.63zM283.24 290.70v-16.75h0.272v16.75zM283.52 290.70v-24.77h0.272v24.77zM283.79 290.70v-14.58h0.272v14.58zM284.06 290.70v-15.70h0.272v15.70zM284.33 290.70v-15.38h0.272v15.38zM284.60 290.70v-14.37h0.272v14.37zM284.88 290.70v-16.86h0.272v16.86zM285.15 290.70v-18.54h0.272v18.54zM285.42 290.70v-15.16h0.272v15.16zM285.69 290.70v-15.87h0.272v15.87zM285.97 290.70v-58.50h0.272v58.50zM286.24 290.70v-58.50h0.272v58.50zM286.51 290.70v-24.82h0.272v24.82zM286.78 290.70v-17.42h0.272v17.42zM287.06 290.70v-31.20h0.272v31.20zM287.33 290.70v-41.50h0.272v41.50zM287.60 290.70v-32.76h0.272v32.76zM287.87 290.70v-31.99h0.272v31.99zM288.14 290.70v-24.04h0.272v24.04zM288.42 290.70v-29.64h0.272v29.64zM288.69 290.70v-18.59h0.272v18.59zM288.96 290.70v-31.33h0.272v31.33zM289.23 290.70v-46.46h0.272v46.46zM289.51 290.70v-28.87h0.272v28.87zM289.78 290.70v-44.29h0.272v44.29zM290.05 290.70v-32.75h0.272v32.75zM290.32 290.70v-25.26h0.272v25.26zM290.59 290.70v-16.27h0.272v16.27zM290.87 290.70v-35.32h0.272v35.32zM291.14 290.70v-26.19h0.272v26.19zM291.41 290.70v-14.15h0.272v14.15zM291.68 290.70v-45.53h0.272v45.53zM291.96 290.70v-37.39h0.272v37.39zM292.23 290.70v-40.45h0.272v40.45zM292.50 290.70v-42.54h0.272v42.54zM292.77 290.70v-67.20h0.272v67.20zM293.04 290.70v-67.20h0.272v67.20zM293.32 290.70v-17.88h0.272v17.88zM293.59 290.70v-33.08h0.272v33.08zM293.86 290.70v-20.31h0.272v20.31zM294.13 290.70v-50.80h0.272v50.80zM294.41 290.70v-17.59h0.272v17.59zM294.68 290.70v-29.48h0.272v29.48zM294.95 290.70v-39.46h0.272v39.46zM295.22 290.70v-25.01h0.272v25.01zM295.50 290.70v-21.83h0.272v21.83zM295.77 290.70v-17.51h0.272v17.51zM296.04 290.70v-44.84h0.272v44.84zM296.31 290.70v-43.38h0.272v43.38zM296.58 290.70v-55.75h0.272v55.75zM296.86 290.70v-25.83h0.272v25.83zM297.13 290.70v-59.05h0.272v59.05zM297.40 290.70v-42.26h0.272v42.26zM297.67 290.70v-46.74h0.272v46.74zM297.95 290.70v-40.07h0.272v40.07zM298.22 290.70v-27.01h0.272v27.01zM298.49 290.70v-29.69h0.272v29.69zM298.76 290.70v-51.24h0.272v51.24zM299.03 290.70v-29.57h0.272v29.57zM299.31 290.70v-34.57h0.272v34.57zM299.58 290.70v-34.61h0.272v34.61zM299.85 290.70v-39.57h0.272v39.57zM300.12 290.70v-54.10h0.272v54.10zM300.40 290.70v-24.81h0.272v24.81zM300.67 290.70v-38.70h0.272v38.70zM300.94 290.70v-26.95h0.272v26.95zM301.21 290.70v-32.64h0.272v32.64zM301.49 290.70v-25.43h0.272v25.43zM301.76 290.70v-18.42h0.272v18.42zM302.03 290.70v-26.60h0.272v26.60zM302.30 290.70v-18.38h0.272v18.38zM302.57 290.70v-53.03h0.272v53.03zM302.85 290.70v-18.01h0.272v18.01zM303.12 290.70v-22.83h0.272v22.83zM303.39 290.70v-30.44h0.272v30.44zM303.66 290.70v-23.15h0.272v23.15zM303.94 290.70v-47.65h0.272v47.65zM304.21 290.70v-25.05h0.272v25.05zM304.48 290.70v-16.30h0.272v16.30zM304.75 290.70v-40.99h0.272v40.99zM305.02 290.70v-23.09h0.272v23.09zM305.30 290.70v-76.69h0.272v76.69zM305.57 290.70v-19.21h0.272v19.21zM305.84 290.70v-21.89h0.272v21.89zM306.11 290.70v-26.78h0.272v26.78zM306.39 290.70v-17.91h0.272v17.91zM306.66 290.70v-35.00h0.272v35.00zM306.93 290.70v-48.93h0.272v48.93zM307.20 290.70v-52.36h0.272v52.36zM307.48 290.70v-32.37h0.272v32.37zM307.75 290.70v-25.49h0.272v25.49zM308.02 290.70v-61.40h0.272v61.40zM308.29 290.70v-61.40h0.272v61.40zM308.56 290.70v-24.69h0.272v24.69zM308.84 290.70v-22.09h0.272v22.09zM309.11 290.70v-20.05h0.272v20.05zM309.38 290.70v-29.18h0.272v29.18zM309.65 290.70v-26.38h0.272v26.38zM309.93 290.70v-37.40h0.272v37.40zM310.20 290.70v-43.07h0.272v43.07zM310.47 290.70v-18.14h0.272v18.14zM310.74 290.70v-32.54h0.272v32.54zM311.01 290.70v-31.66h0.272v31.66zM311.29 290.70v-23.76h0.272v23.76zM311.56 290.70v-29.85h0.272v29.85zM311.83 290.70v-50.58h0.272v50.58zM312.10 290.70v-29.65h0.272v29.65zM312.38 290.70v-29.62h0.272v29.62zM312.65 290.70v-26.84h0.272v26.84zM312.92 290.70v-36.54h0.272v36.54zM313.19 290.70v-26.29h0.272v26.29zM313.46 290.70v-41.37h0.272v41.37zM313.74 290.70v-20.58h0.272v20.58zM314.01 290.70v-24.56h0.272v24.56zM314.28 290.70v-80.20h0.272v80.20zM314.55 290.70v-80.20h0.272v80.20zM314.83 290.70v-24.76h0.272v24.76zM315.10 290.70v-31.14h0.272v31.14zM315.37 290.70v-39.71h0.272v39.71zM315.64 290.70v-25.09h0.272v25.09zM315.92 290.70v-30.68h0.272v30.68zM316.19 290.70v-31.05h0.272v31.05zM316.46 290.70v-16.35h0.272v16.35zM316.73 290.70v-15.03h0.272v15.03zM317.00 290.70v-27.15h0.272v27.15zM317.28 290.70v-17.30h0.272v17.30zM317.55 290.70v-24.46h0.272v24.46zM317.82 290.70v-25.98h0.272v25.98zM318.09 290.70v-38.10h0.272v38.10zM318.37 290.70v-38.10h0.272v38.10zM318.64 290.70v-17.51h0.272v17.51zM318.91 290.70v-39.61h0.272v39.61zM319.18 290.70v-12.01h0.272v12.01zM319.45 290.70v-33.04h0.272v33.04zM319.73 290.70v-22.40h0.272v22.40zM320.00 290.70v-17.41h0.272v17.41zM320.27 290.70v-25.18h0.272v25.18zM320.54 290.70v-21.17h0.272v21.17zM320.82 290.70v-15.76h0.272v15.76zM321.09 290.70v-20.69h0.272v20.69zM321.36 290.70v-22.49h0.272v22.49zM321.63 290.70v-25.51h0.272v25.51zM321.91 290.70v-22.26h0.272v22.26zM322.18 290.70v-20.60h0.272v20.60zM322.45 290.70v-36.70h0.272v36.70zM322.72 290.70v-36.70h0.272v36.70zM322.99 290.70v-25.60h0.272v25.60zM323.27 290.70v-26.61h0.272v26.61zM323.54 290.70v-15.25h0.272v15.25zM323.81 290.70v-16.06h0.272v16.06zM324.08 290.70v-13.94h0.272v13.94zM324.36 290.70v-12.63h0.272v12.63zM324.63 290.70v-22.75h0.272v22.75zM324.90 290.70v-25.30h0.272v25.30zM325.17 290.70v-16.95h0.272v16.95zM325.44 290.70v-18.55h0.272v18.55zM325.72 290.70v-26.90h0.272v26.90zM325.99 290.70v-10.93h0.272v10.93zM326.26 290.70v-14.23h0.272v14.23zM326.53 290.70v-13.38h0.272v13.38zM326.81 290.70v-28.70h0.272v28.70zM327.08 290.70v-28.70h0.272v28.70zM327.35 290.70v-9.04h0.272v9.04zM327.62 290.70v-15.21h0.272v15.21zM327.89 290.70v-11.35h0.272v11.35zM328.17 290.70v-15.59h0.272v15.59zM328.44 290.70v-18.92h0.272v18.92zM328.71 290.70v-19.13h0.272v19.13zM328.98 290.70v-24.62h0.272v24.62zM329.26 290.70v-19.71h0.272v19.71zM329.53 290.70v-18.94h0.272v18.94zM329.80 290.70v-11.41h0.272v11.41zM330.07 290.70v-30.30h0.272v30.30zM330.35 290.70v-12.44h0.272v12.44zM330.62 290.70v-19.00h0.272v19.00zM330.89 290.70v-26.70h0.272v26.70zM331.16 290.70v-26.70h0.272v26.70zM331.43 290.70v-26.11h0.272v26.11zM331.71 290.70v-13.89h0.272v13.89zM331.98 290.70v-17.63h0.272v17.63zM332.25 290.70v-10.25h0.272v10.25zM332.52 290.70v-9.11h0.272v9.11zM332.80 290.70v-21.07h0.272v21.07zM333.07 290.70v-35.76h0.272v35.76zM333.34 290.70v-23.98h0.272v23.98zM333.61 290.70v-17.36h0.272v17.36zM333.88 290.70v-17.67h0.272v17.67zM334.16 290.70v-30.63h0.272v30.63zM334.43 290.70v-29.49h0.272v29.49zM334.70 290.70v-12.67h0.272v12.67zM334.97 290.70v-10.85h0.272v10.85zM335.25 290.70v-30.06h0.272v30.06zM335.52 290.70v-12.90h0.272v12.90zM335.79 290.70v-19.12h0.272v19.12zM336.06 290.70v-23.96h0.272v23.96zM336.34 290.70v-10.48h0.272v10.48zM336.61 290.70v-11.27h0.272v11.27zM336.88 290.70v-22.20h0.272v22.20zM337.15 290.70v-22.20h0.272v22.20zM337.42 290.70v-12.03h0.272v12.03zM337.70 290.70v-17.03h0.272v17.03zM337.97 290.70v-7.55h0.272v7.55zM338.24 290.70v-13.80h0.272v13.80zM338.51 290.70v-7.70h0.272v7.70zM338.79 290.70v-8.73h0.272v8.73z" fill="#0000ff"/>
<polyline points="364.2,281.2 365.9,246 367.4,198 369.2,160 372.0,110 374.6,67" fill="none" stroke="#000" stroke-width="1.3"/>
<polygon points="368.7,290.7 368.7,246 368.2,221 367.9,200 368.3,180 369.1,150 370.3,120 371.1,100 372.1,67 372.1,31.9 374.4,31.9 374.5,67 375.55,255 375.55,290.7" fill="#0000ff"/>
<polyline points="374.6,66.5 375.2,255" fill="none" stroke="#000" stroke-width="1.1"/>
<polyline points="46.1,290.7 106.7,140.1 302.4,140.1 363.3,290.7" fill="none" stroke="#000" stroke-width="1.5" stroke-linejoin="miter"/>
<line x1="45.96" y1="140.1" x2="394" y2="140.1" stroke="#ff1c1c" stroke-width="1.7" stroke-dasharray="6.5 5.35"/>
<line x1="368.5" y1="34.1" x2="368.5" y2="290.7" stroke="#ff1c1c" stroke-width="1.7" stroke-dasharray="6.3 5.6"/>
<circle cx="368.8" cy="169.2" r="2.3" fill="#5f8c3e" stroke="#3f6e2e" stroke-width="0.8"/>
<path d="M46.1 291.70V31.9H390" fill="none" stroke="#000" stroke-width="2" stroke-linejoin="miter"/>
<path d="M45.10 290.7H390" fill="none" stroke="#000" stroke-width="2"/>
<path d="M389.9 31.90H394.6V290.70H389.9" fill="none" stroke="#0000ff" stroke-width="2" stroke-linejoin="miter"/>
<text x="40.6" y="294.70" font-size="13.3" text-anchor="end">0</text>
<line x1="46.1" y1="258.35" x2="51.0" y2="258.35" stroke="#000" stroke-width="1.9"/>
<text x="40.6" y="262.35" font-size="13.3" text-anchor="end">10</text>
<line x1="46.1" y1="226.00" x2="51.0" y2="226.00" stroke="#000" stroke-width="1.9"/>
<text x="40.6" y="230.00" font-size="13.3" text-anchor="end">20</text>
<line x1="46.1" y1="193.65" x2="51.0" y2="193.65" stroke="#000" stroke-width="1.9"/>
<text x="40.6" y="197.65" font-size="13.3" text-anchor="end">30</text>
<line x1="46.1" y1="161.30" x2="51.0" y2="161.30" stroke="#000" stroke-width="1.9"/>
<text x="40.6" y="165.30" font-size="13.3" text-anchor="end">40</text>
<line x1="46.1" y1="128.95" x2="51.0" y2="128.95" stroke="#000" stroke-width="1.9"/>
<text x="40.6" y="132.95" font-size="13.3" text-anchor="end">50</text>
<line x1="46.1" y1="96.60" x2="51.0" y2="96.60" stroke="#000" stroke-width="1.9"/>
<text x="40.6" y="100.60" font-size="13.3" text-anchor="end">60</text>
<line x1="46.1" y1="64.25" x2="51.0" y2="64.25" stroke="#000" stroke-width="1.9"/>
<text x="40.6" y="68.25" font-size="13.3" text-anchor="end">70</text>
<text x="40.6" y="35.90" font-size="13.3" text-anchor="end">80</text>
<text x="400.4" y="294.90" font-size="13.3" fill="#0000ff">0</text>
<line x1="394.6" y1="264.82" x2="389.9" y2="264.82" stroke="#0000ff" stroke-width="1.9"/>
<text x="400.4" y="269.02" font-size="13.3" fill="#0000ff">10</text>
<line x1="394.6" y1="238.94" x2="389.9" y2="238.94" stroke="#0000ff" stroke-width="1.9"/>
<text x="400.4" y="243.14" font-size="13.3" fill="#0000ff">20</text>
<line x1="394.6" y1="213.06" x2="389.9" y2="213.06" stroke="#0000ff" stroke-width="1.9"/>
<text x="400.4" y="217.26" font-size="13.3" fill="#0000ff">30</text>
<line x1="394.6" y1="187.18" x2="389.9" y2="187.18" stroke="#0000ff" stroke-width="1.9"/>
<text x="400.4" y="191.38" font-size="13.3" fill="#0000ff">40</text>
<line x1="394.6" y1="161.30" x2="389.9" y2="161.30" stroke="#0000ff" stroke-width="1.9"/>
<text x="400.4" y="165.50" font-size="13.3" fill="#0000ff">50</text>
<line x1="394.6" y1="135.42" x2="389.9" y2="135.42" stroke="#0000ff" stroke-width="1.9"/>
<text x="400.4" y="139.62" font-size="13.3" fill="#0000ff">60</text>
<line x1="394.6" y1="109.54" x2="389.9" y2="109.54" stroke="#0000ff" stroke-width="1.9"/>
<text x="400.4" y="113.74" font-size="13.3" fill="#0000ff">70</text>
<line x1="394.6" y1="83.66" x2="389.9" y2="83.66" stroke="#0000ff" stroke-width="1.9"/>
<text x="400.4" y="87.86" font-size="13.3" fill="#0000ff">80</text>
<line x1="394.6" y1="57.78" x2="389.9" y2="57.78" stroke="#0000ff" stroke-width="1.9"/>
<text x="400.4" y="61.98" font-size="13.3" fill="#0000ff">90</text>
<text x="400.4" y="36.10" font-size="13.3" fill="#0000ff">100</text>
<text x="46.30" y="307.8" font-size="13.3" text-anchor="middle">0</text>
<line x1="89.66" y1="290.7" x2="89.66" y2="286.1" stroke="#000" stroke-width="1.9"/>
<text x="89.86" y="307.8" font-size="13.3" text-anchor="middle">40</text>
<line x1="133.22" y1="290.7" x2="133.22" y2="286.1" stroke="#000" stroke-width="1.9"/>
<text x="133.42" y="307.8" font-size="13.3" text-anchor="middle">80</text>
<line x1="176.79" y1="290.7" x2="176.79" y2="286.1" stroke="#000" stroke-width="1.9"/>
<text x="176.99" y="307.8" font-size="13.3" text-anchor="middle">120</text>
<line x1="220.35" y1="290.7" x2="220.35" y2="286.1" stroke="#000" stroke-width="1.9"/>
<text x="220.55" y="307.8" font-size="13.3" text-anchor="middle">160</text>
<line x1="263.91" y1="290.7" x2="263.91" y2="286.1" stroke="#000" stroke-width="1.9"/>
<text x="264.11" y="307.8" font-size="13.3" text-anchor="middle">200</text>
<line x1="307.48" y1="290.7" x2="307.48" y2="286.1" stroke="#000" stroke-width="1.9"/>
<text x="307.68" y="307.8" font-size="13.3" text-anchor="middle">240</text>
<line x1="351.04" y1="290.7" x2="351.04" y2="286.1" stroke="#000" stroke-width="1.9"/>
<text x="351.24" y="307.8" font-size="13.3" text-anchor="middle">280</text>
<text x="394.80" y="307.8" font-size="13.3" text-anchor="middle">320</text>
<text x="166.5" y="322.5" font-size="14.5">Detection time (s)</text>
<text transform="translate(22.9,178) rotate(-90)" font-size="14.6"><tspan font-style="italic">σ</tspan><tspan font-size="9.5" dy="3">1</tspan><tspan dy="-3"> (MPa)</tspan></text>
<text transform="translate(427.8,184.2) rotate(-90)" font-size="14.3" fill="#0000ff">AE events</text>
<line x1="54.3" y1="50.3" x2="83.8" y2="50.3" stroke="#000" stroke-width="2.2" stroke-linecap="round"/>
<rect x="54.6" y="61.2" width="29.6" height="10.6" fill="#0000ff"/>
<text x="87" y="54.8" font-size="13.4">Stress - time curve, 61#</text>
<text x="87" y="69.9" font-size="13.4">AE events</text>
<text x="148.6" y="135.4" font-size="12.15">Prescribed stress level</text>
<text x="269" y="84.3" font-size="12.15">Stress level of</text>
<text x="269" y="99.2" font-size="12.15">reloading with AE</text>
<text x="318.1" y="172.5" font-size="12.05" fill="#1f881f"><tspan font-style="italic">FR</tspan>=0.82</text>
<g font-weight="normal" font-size="21.6"><text x="207.65" y="372.7">(</text><text transform="translate(214.9,371.7) scale(1.235,1)" font-size="19.4" font-weight="bold">e</text><text x="224.95" y="372.7">)</text></g>
</svg>
</body></html>
